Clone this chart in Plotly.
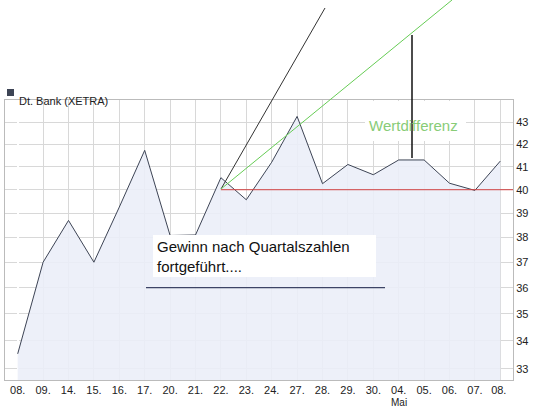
import numpy as np
import plotly.graph_objects as go

# Kursdaten (Dt. Bank, XETRA)
tage = ["08.", "09.", "14.", "15.", "16.", "17.", "20.", "21.", "22.", "23.",
        "24.", "27.", "28.", "29.", "30.", "04.", "05.", "06.", "07.", "08. "]
kurse = [33.53, 37.0, 38.7, 37.0, 39.26, 41.73, 38.08, 38.1, 40.52, 39.57,
         41.2, 43.28, 40.26, 41.1, 40.65, 41.3, 41.3, 40.28, 39.97, 41.25]
y_ticks = [33, 34, 35, 36, 37, 38, 39, 40, 41, 42, 43]
basis = 40.0
linie_unten = 36.0

x = list(range(len(tage)))
fig = go.Figure()
fig.add_trace(go.Scatter(x=x, y=[30] * len(x), mode="lines", line=dict(width=0),
                         hoverinfo="skip", showlegend=False))
fig.add_trace(go.Scatter(x=x, y=kurse, mode="lines", fill="tonexty",
                         fillcolor="rgba(235,238,248,0.9)",
                         line=dict(color="#3d4455", width=1), showlegend=False))

ax = dict(color="#222", linecolor="#bbb", mirror=True, showline=True, automargin=False)
fig.update_xaxes(tickvals=x, ticktext=tage, range=[-0.5, 19.5], gridcolor="#d8d8d8",
                 ticks="", **ax)
fig.update_yaxes(type="log", range=[np.log10(32.6), np.log10(44.05)], side="right",
                 tickvals=y_ticks, ticktext=[str(v) for v in y_ticks],
                 gridcolor="#d8d8d8", ticks="", **ax)

def px(v): return (v - 5) / 508
def py(v): return (380 - v) / 280

shapes = [
    dict(type="line", xref="x", yref="y", x0=8, x1=19.5, y0=basis, y1=basis,
         line=dict(color="#d04040", width=1)),
    dict(type="line", xref="paper", yref="paper", x0=px(221), y0=py(189), x1=px(325), y1=py(8),
         line=dict(color="#333", width=1)),
    dict(type="line", xref="paper", yref="paper", x0=px(221), y0=py(189), x1=px(452), y1=py(0),
         line=dict(color="#66cc55", width=1)),
    dict(type="rect", xref="paper", yref="paper", x0=px(365), y0=py(101), x1=px(466), y1=py(141),
         fillcolor="white", line=dict(width=0)),
    dict(type="line", xref="paper", yref="paper", x0=px(412), y0=py(35), x1=px(412), y1=py(158),
         line=dict(color="#111", width=1.5)),
    dict(type="rect", xref="paper", yref="paper", x0=px(153), y0=py(235), x1=px(376), y1=py(277),
         fillcolor="white", line=dict(width=0)),
    dict(type="line", xref="paper", yref="y", x0=px(146), x1=px(385), y0=linie_unten, y1=linie_unten,
         line=dict(color="#3d4466", width=1.2)),
    dict(type="rect", xref="paper", yref="paper", x0=px(7), y0=py(89), x1=px(14), y1=py(96),
         fillcolor="#3d4455", line=dict(width=0)),
]
fig.update_layout(shapes=shapes)

fig.add_annotation(xref="paper", yref="paper", x=px(17), y=py(93), text="Dt. Bank (XETRA)",
                   showarrow=False, xanchor="left", font=dict(size=11, color="#222"))
fig.add_annotation(xref="x", yref="paper", x=15, y=py(395), yanchor="top", text="Mai",
                   showarrow=False, font=dict(size=10, color="#222"))
fig.add_annotation(xref="paper", yref="paper", x=px(367), y=py(115), text="Wertdifferenz",
                   showarrow=False, xanchor="left", font=dict(size=15, color="#88cc77"))
fig.add_annotation(xref="paper", yref="paper", x=px(155), y=py(256),
                   text="Gewinn nach Quartalszahlen<br>fortgeführt....", align="left",
                   showarrow=False, xanchor="left", font=dict(size=15, color="#111"))

fig.update_layout(width=545, height=407, margin=dict(l=5, r=32, t=100, b=27),
                  paper_bgcolor="white", plot_bgcolor="white",
                  font=dict(family="Liberation Sans, Arial", size=11, color="#222"))
fig.write_html("out.html", config={"displayModeBar": False},
               post_script="document.body.style.margin='0';document.body.style.overflow='hidden';")
